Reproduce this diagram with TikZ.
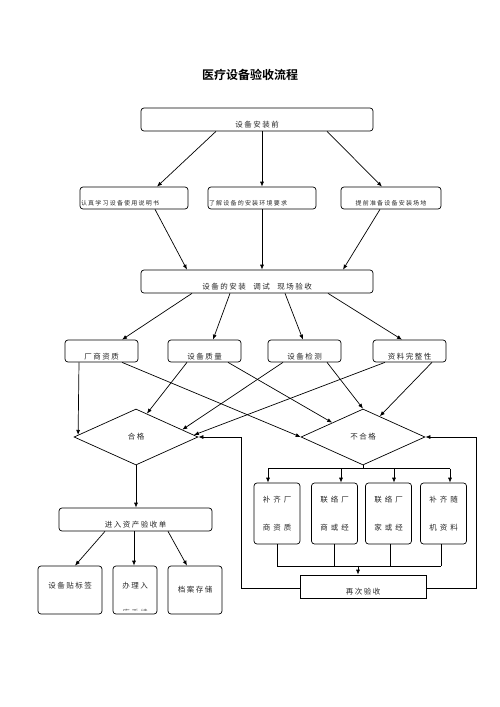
\documentclass[tikz,border=0pt]{standalone}
\usepackage{fontspec}
\usetikzlibrary{shapes.geometric, arrows.meta, calc}
\newfontfamily\cjk[LetterSpace=20]{Noto Sans CJK SC}
\newfontfamily\cjkwide[LetterSpace=40]{Noto Sans CJK SC}
\newfontfamily\cjktitle{Noto Sans CJK SC Bold}

\begin{document}
\begin{tikzpicture}[x=1pt, y=-1pt, line width=0.7pt,
    box/.style={draw, rounded corners=3pt, inner xsep=0pt, inner ysep=0pt, text=black!85,
      font=\cjk\fontsize{7.5}{9}\selectfont},
    prep/.style={box, inner xsep=1pt, text height=18.5pt, text depth=3.5pt,
      font=\cjk\fontsize{6}{8}\selectfont},
    item/.style={box, minimum width=73pt, text height=19.8pt, text depth=2.2pt},
    fix/.style={box, minimum width=46pt, minimum height=61pt, align=center,
      font=\cjkwide\fontsize{7.5}{28}\selectfont},
    check/.style={draw, diamond, minimum width=124pt, minimum height=56pt, inner sep=0pt,
      text=black!85, font=\cjk\fontsize{7.5}{9}\selectfont},
    arr/.style={-{Latex[length=5pt, width=4pt]}}]
    \useasboundingbox (0,0) rectangle (500,707);

    % Title
    \node[font=\cjktitle\fontsize{12}{14}\selectfont] (title) at (250,75) {医疗设备验收流程};

    % Before installation
    \node[box, minimum width=232pt, text height=19.8pt, text depth=3.2pt] (start) at (257,119.5) {设备安装前};
    \node[prep, text width=106pt, align=left] (prepA) at (134,198) {认真学习设备使用说明书};
    \node[prep, text width=106pt, align=left] (prepB) at (262,198) {了解设备的安装环境要求};
    \node[prep, text width=98pt, align=center] (prepC) at (391,198) {提前准备设备安装场地};

    \draw[arr] ([xshift=-41pt]start.south) -- ([xshift=23pt]prepA.north);
    \draw[arr] ([xshift=5pt]start.south) -- (prepB.north);
    \draw[arr] ([xshift=70pt]start.south) -- ([xshift=-9pt]prepC.north);

    % Installation and checks
    \node[box, minimum width=232pt, text height=19.8pt, text depth=3.2pt] (install) at (257,281.5) {设备的安装\quad 调试\quad 现场验收};
    \draw[arr] ([xshift=21pt]prepA.south) -- ([xshift=-70pt]install.north);
    \draw[arr] (prepB.south) -- ([xshift=5pt]install.north);
    \draw[arr] ([xshift=-11pt]prepC.south) -- ([xshift=86pt]install.north);

    \node[item] (itemA) at (101.5,351) {厂商资质};
    \node[item] (itemB) at (204.5,351) {设备质量};
    \node[item] (itemC) at (304.5,351) {设备检测};
    \node[item] (itemD) at (409.5,351) {资料完整性};

    \draw[arr] ([xshift=-65pt]install.south) -- ([xshift=20.5pt]itemA.north);
    \draw[arr] ([xshift=-27pt]install.south) -- ([xshift=8.5pt]itemB.north);
    \draw[arr] ([xshift=28pt]install.south) -- ([xshift=-1.5pt]itemC.north);
    \draw[arr] ([xshift=71pt]install.south) -- ([xshift=-7.5pt]itemD.north);

    % Decisions
    \node[check] (pass) at (136,437) {合格};
    \node[check] (fail) at (363,437) {不合格};

    \draw[arr] ([xshift=-22.5pt]itemA.south) -- (pass.178);
    \draw[arr] ([xshift=20.5pt]itemA.south) -- (fail.west);
    \draw[arr] ([xshift=-17.5pt]itemB.south) -- (pass.65);
    \draw[arr] ([xshift=23.5pt]itemB.south) -- (fail.155);
    \draw[arr] ([xshift=-21.5pt]itemC.south) -- (pass.9);
    \draw[arr] ([xshift=22.5pt]itemC.south) -- (fail.north);
    \draw[arr] ([xshift=-24.5pt]itemD.south) -- (pass.2);
    \draw[arr] ([xshift=22.5pt]itemD.south) -- (fail.51);

    % Passed
    \node[box, minimum width=153pt, text height=19.8pt, text depth=3.2pt] (record) at (135.5,519.5) {进入资产验收单};
    \draw[arr] (pass.south) -- (pass.south |- record.north);

    \node[box, minimum width=64pt, text height=22.85pt, text depth=25.15pt] (label) at (70,590) {设备贴标签};
    \node[box, minimum width=44pt, text height=22.85pt, text depth=25.15pt] (stock) at (135,590) {办理入};
    \node[box, minimum width=54pt, text height=26.85pt, text depth=21.15pt] (archive) at (195,590) {档案存储};
    \begin{scope}
        \clip (114,567) rectangle (156,610);
        \node[text=black!60, font=\cjk\fontsize{7.5}{9}\selectfont] (stocknote) at (135,613) {库手续};
    \end{scope}

    \draw[arr] ([xshift=-30.5pt]record.south) -- ([xshift=5pt]label.north);
    \draw[arr] ([xshift=-1.5pt]record.south) -- ([xshift=-1pt]stock.north);
    \draw[arr] ([xshift=32.5pt]record.south) -- ([xshift=-8pt]archive.north);

    % Failed
    \node[fix] (fixA) at (277,513.5) {补齐厂\\商资质};
    \node[fix] (fixB) at (334.5,513.5) {联络厂\\商或经};
    \node[fix] (fixC) at (388.5,513.5) {联络厂\\家或经};
    \node[fix] (fixD) at (443.5,513.5) {补齐随\\机资料};

    \draw (fail.south) -- ++(0,4);
    \draw ($(fixA.north)+(-9,-14)$) -- ($(fixD.north)+(6.5,-14)$);
    \foreach \b/\dx in {fixA/-9, fixB/6.5, fixC/5.5, fixD/6.5}
        \draw[arr] ($(\b.north)+(\dx,-14)$) -- ($(\b.north)+(\dx,0)$);

    \node[box, sharp corners, minimum width=126pt, text height=19.8pt, text depth=3.2pt] (retest) at (363,586.5) {再次验收};

    \foreach \b/\dx in {fixA/0, fixB/0, fixC/1.5, fixD/-2.5}
        \draw ($(\b.south)+(\dx,0)$) -- ++(0,22);
    \draw ($(fixA.south)+(0,22)$) -- ($(fixD.south)+(-2.5,22)$);
    \draw[arr] ($(retest.north)+(-5,-9)$) -- ([xshift=-5pt]retest.north);

    % Back to the decisions
    \draw[arr] ([yshift=-1.5pt]retest.west) -- ++(-58,0) |- (pass.east);
    \draw[arr] ([yshift=-1.5pt]retest.east) -- ++(50,0) |- (fail.east);
\end{tikzpicture}
\end{document}
